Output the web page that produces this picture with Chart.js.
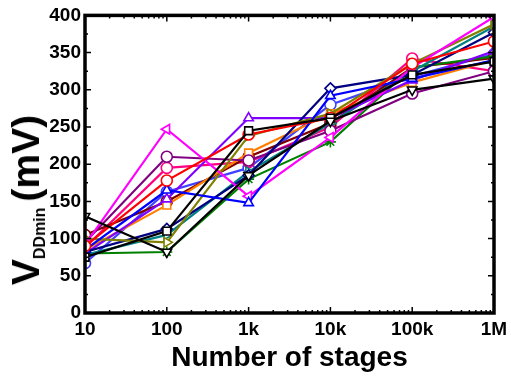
<!DOCTYPE html>
<html>
<head>
<meta charset="utf-8">
<script src="https://cdn.jsdelivr.net/npm/chart.js@4.4.1/dist/chart.umd.min.js"></script>
<style>
html,body{margin:0;padding:0;background:#fff;}
#wrap{position:relative;width:511px;height:384px;}
#ytitle{position:absolute;left:27px;top:200px;transform:translate(-50%,-50%) rotate(-90deg);white-space:nowrap;
font-family:"Liberation Sans",Arial,sans-serif;font-weight:bold;font-size:39px;line-height:1;color:#000;}
#ytitle sub{font-size:16px;vertical-align:-6px;margin-right:6px;}
</style>
</head>
<body>
<div id="wrap">
<canvas id="c" width="511" height="384"></canvas>
<div id="ytitle">V<sub>DDmin</sub>(mV)</div>
</div>
<script>
const stages = [10, 100, 1000, 10000, 100000, 1000000];
const xTickLabels = ['10', '100', '1k', '10k', '100k', '1M'];
const yTicks = [0, 50, 100, 150, 200, 250, 300, 350, 400];

const sBlackTri   = [130, 82, 185, 258, 300, 315];
const sBlackSq    = [75, 110, 245, 262, 320, 338];
const sRed        = [90, 178, 240, 262, 335, 365];
const sBlue       = [85, 165, 148, 292, 315, 340];
const sMagenta    = [92, 247, 157, 236, 330, 398];
const sOlive      = [100, 95, 238, 268, 335, 388];
const sNavy       = [82, 113, 185, 302, 320, 377];
const sPurple     = [95, 210, 205, 245, 295, 325];
const sViolet     = [80, 153, 262, 262, 313, 352];
const sTeal       = [78, 105, 190, 255, 325, 385];
const sGreen      = [80, 82, 180, 230, 330, 345];
const sOrange     = [85, 145, 215, 268, 310, 340];
const sBrown      = [105, 150, 210, 255, 330, 343];
const sPink       = [88, 195, 203, 250, 342, 325];
const sRoyal      = [67, 163, 195, 280, 318, 348];

function mk(label, vals, color, style, rot) {
  return {
    label, data: vals.map((v, i) => ({x: stages[i], y: v})),
    borderColor: color, backgroundColor: '#fff', borderWidth: 2.2,
    pointStyle: style, pointRotation: rot || 0, pointRadius: 5.5,
    pointBorderWidth: 1.6, pointBorderColor: color, pointBackgroundColor: '#fff',
    tension: 0
  };
}

const datasets = [
  mk('s1', sBlackTri, '#000000', 'triangle', 180),
  mk('s2', sBlackSq, '#000000', 'rect'),
  mk('s3', sRed, '#ff0000', 'circle'),
  mk('s4', sBlue, '#0000ff', 'triangle'),
  mk('s5', sMagenta, '#ff00ff', 'triangle', -90),
  mk('s6', sOlive, '#808000', 'triangle', 90),
  mk('s7', sNavy, '#000080', 'rectRot'),
  mk('s8', sPurple, '#800080', 'circle'),
  mk('s9', sViolet, '#8000ff', 'triangle'),
  mk('s10', sTeal, '#008080', 'triangle', 90),
  mk('s11', sGreen, '#008000', 'star'),
  mk('s12', sOrange, '#ff8000', 'rect'),
  mk('s13', sBrown, '#800000', 'circle'),
  mk('s14', sPink, '#ff0080', 'circle'),
  mk('s15', sRoyal, '#4040ff', 'circle')
];

const frame = {
  id: 'frame',
  afterDatasetsDraw(chart) {
    const {ctx, chartArea: a, scales: {x, y}} = chart;
    ctx.save();
    ctx.strokeStyle = '#000';
    ctx.lineWidth = 1.5;
    ctx.beginPath();
    for (let d = 10; d < 1e6; d *= 10) {
      for (let k = 1; k <= 9; k++) {
        const px = x.getPixelForValue(k * d);
        const len = k === 1 ? 6 : 3;
        ctx.moveTo(px, a.bottom); ctx.lineTo(px, a.bottom - len);
        ctx.moveTo(px, a.top); ctx.lineTo(px, a.top + len);
      }
    }
    for (let v = 0; v <= 400; v += 25) {
      const py = y.getPixelForValue(v);
      const len = v % 50 === 0 ? 6 : 3;
      ctx.moveTo(a.left, py); ctx.lineTo(a.left + len, py);
      ctx.moveTo(a.right, py); ctx.lineTo(a.right - len, py);
    }
    ctx.stroke();
    ctx.lineWidth = 3.5;
    ctx.strokeRect(a.left, a.top, a.right - a.left, a.bottom - a.top);
    ctx.restore();
  }
};

new Chart(document.getElementById('c'), {
  type: 'line',
  data: {datasets},
  plugins: [frame],
  options: {
    responsive: false,
    animation: false,
    layout: {padding: {left: 0, right: 17, top: 14, bottom: 0}},
    plugins: {legend: {display: false}, tooltip: {enabled: false}},
    scales: {
      x: {
        type: 'logarithmic', min: 10, max: 1000000,
        grid: {display: false, drawTicks: false},
        border: {display: false},
        afterBuildTicks: s => { s.ticks = stages.map(v => ({value: v})); },
        afterFit: s => { s.height = 71; s.paddingLeft = 0; s.paddingRight = 0; },
        ticks: {
          autoSkip: false, maxRotation: 0, padding: 5, color: '#000',
          font: {family: 'Liberation Sans', weight: 'bold', size: 19},
          callback: (v) => { const i = stages.indexOf(v); return i >= 0 ? xTickLabels[i] : ''; }
        },
        title: {
          display: true, text: 'Number of stages', color: '#000',
          font: {family: 'Liberation Sans', weight: 'bold', size: 28},
          padding: {top: 0, bottom: 9}
        }
      },
      y: {
        type: 'linear', min: 0, max: 400,
        grid: {display: false, drawTicks: false},
        border: {display: false},
        afterBuildTicks: s => { s.ticks = yTicks.map(v => ({value: v})); },
        afterFit: s => { s.width = 85; },
        ticks: {
          padding: 4, color: '#000',
          font: {family: 'Liberation Sans', weight: 'bold', size: 19}
        }
      }
    }
  }
});
</script>
</body>
</html>
